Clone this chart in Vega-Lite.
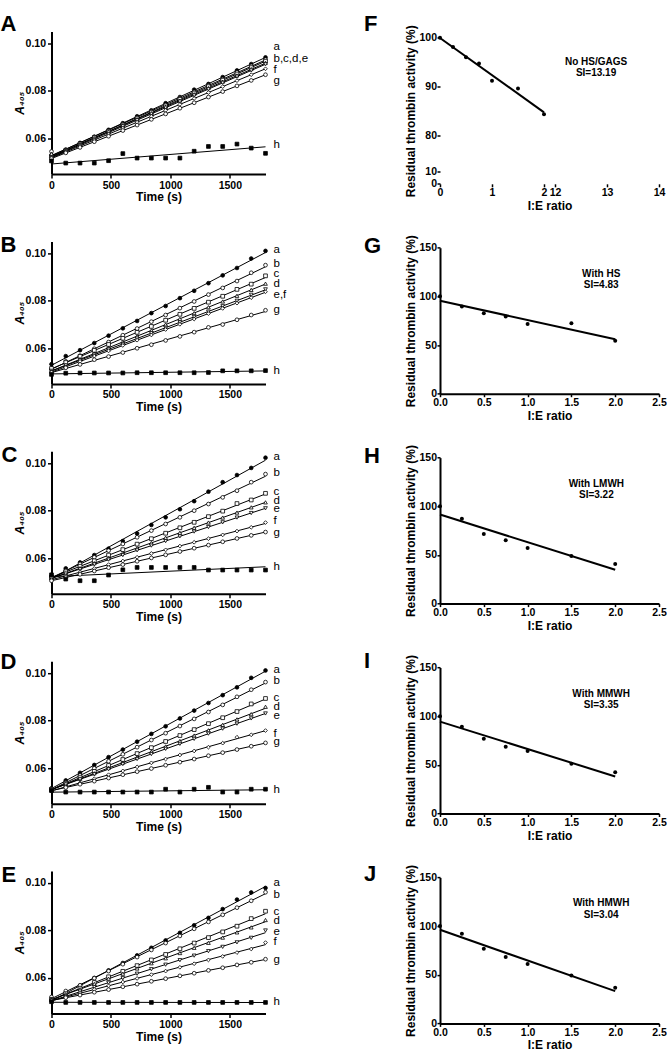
{
"$schema": "https://vega.github.io/schema/vega-lite/v6.json",
"autosize": {"type": "none"},
"padding": {"left": 51.5, "top": 31.5, "right": 615.5, "bottom": 1017.5},
"background": "white",
"config": {
  "view": {"stroke": null},
  "font": "Liberation Sans",
  "title": {"fontSize": 22, "fontWeight": "bold", "font": "Liberation Sans", "baseline": "alphabetic", "anchor": "start", "frame": "group", "offset": 0, "color": "black"},
  "axis": {"domainColor": "black", "domainWidth": 2, "tickColor": "black", "tickWidth": 1.5, "tickSize": 4, "labelFont": "Liberation Sans", "labelFontWeight": "bold", "labelFontSize": 10.5, "labelColor": "black", "titleFont": "Liberation Sans", "titleFontWeight": "bold", "titleFontSize": 12, "titleColor": "black", "grid": false, "labelFlush": false, "labelOverlap": false, "labelPadding": 2, "tickCount": 20}
},
"datasets": {
"kin": [
{"p":"A","s":"a","t":0,"v":0.0530},{"p":"A","s":"a","t":120,"v":0.0553},{"p":"A","s":"a","t":240,"v":0.0581},{"p":"A","s":"a","t":360,"v":0.0607},{"p":"A","s":"a","t":480,"v":0.0636},{"p":"A","s":"a","t":600,"v":0.0664},{"p":"A","s":"a","t":720,"v":0.0693},{"p":"A","s":"a","t":840,"v":0.0718},{"p":"A","s":"a","t":960,"v":0.0748},{"p":"A","s":"a","t":1080,"v":0.0774},{"p":"A","s":"a","t":1200,"v":0.0805},{"p":"A","s":"a","t":1320,"v":0.0829},{"p":"A","s":"a","t":1440,"v":0.0858},{"p":"A","s":"a","t":1560,"v":0.0886},{"p":"A","s":"a","t":1680,"v":0.0913},{"p":"A","s":"a","t":1800,"v":0.0941},
{"p":"A","s":"b","t":0,"v":0.0545},{"p":"A","s":"b","t":120,"v":0.0550},{"p":"A","s":"b","t":240,"v":0.0577},{"p":"A","s":"b","t":360,"v":0.0605},{"p":"A","s":"b","t":480,"v":0.0632},{"p":"A","s":"b","t":600,"v":0.0660},{"p":"A","s":"b","t":720,"v":0.0687},{"p":"A","s":"b","t":840,"v":0.0714},{"p":"A","s":"b","t":960,"v":0.0741},{"p":"A","s":"b","t":1080,"v":0.0769},{"p":"A","s":"b","t":1200,"v":0.0796},{"p":"A","s":"b","t":1320,"v":0.0823},{"p":"A","s":"b","t":1440,"v":0.0850},{"p":"A","s":"b","t":1560,"v":0.0878},{"p":"A","s":"b","t":1680,"v":0.0905},{"p":"A","s":"b","t":1800,"v":0.0932},
{"p":"A","s":"c","t":0,"v":0.0522},{"p":"A","s":"c","t":120,"v":0.0549},{"p":"A","s":"c","t":240,"v":0.0576},{"p":"A","s":"c","t":360,"v":0.0603},{"p":"A","s":"c","t":480,"v":0.0630},{"p":"A","s":"c","t":600,"v":0.0656},{"p":"A","s":"c","t":720,"v":0.0683},{"p":"A","s":"c","t":840,"v":0.0710},{"p":"A","s":"c","t":960,"v":0.0737},{"p":"A","s":"c","t":1080,"v":0.0764},{"p":"A","s":"c","t":1200,"v":0.0791},{"p":"A","s":"c","t":1320,"v":0.0818},{"p":"A","s":"c","t":1440,"v":0.0845},{"p":"A","s":"c","t":1560,"v":0.0871},{"p":"A","s":"c","t":1680,"v":0.0898},{"p":"A","s":"c","t":1800,"v":0.0925},
{"p":"A","s":"d","t":0,"v":0.0535},{"p":"A","s":"d","t":120,"v":0.0547},{"p":"A","s":"d","t":240,"v":0.0574},{"p":"A","s":"d","t":360,"v":0.0600},{"p":"A","s":"d","t":480,"v":0.0627},{"p":"A","s":"d","t":600,"v":0.0653},{"p":"A","s":"d","t":720,"v":0.0680},{"p":"A","s":"d","t":840,"v":0.0706},{"p":"A","s":"d","t":960,"v":0.0733},{"p":"A","s":"d","t":1080,"v":0.0759},{"p":"A","s":"d","t":1200,"v":0.0786},{"p":"A","s":"d","t":1320,"v":0.0812},{"p":"A","s":"d","t":1440,"v":0.0839},{"p":"A","s":"d","t":1560,"v":0.0865},{"p":"A","s":"d","t":1680,"v":0.0892},{"p":"A","s":"d","t":1800,"v":0.0918},
{"p":"A","s":"e","t":0,"v":0.0520},{"p":"A","s":"e","t":120,"v":0.0546},{"p":"A","s":"e","t":240,"v":0.0572},{"p":"A","s":"e","t":360,"v":0.0598},{"p":"A","s":"e","t":480,"v":0.0625},{"p":"A","s":"e","t":600,"v":0.0651},{"p":"A","s":"e","t":720,"v":0.0677},{"p":"A","s":"e","t":840,"v":0.0703},{"p":"A","s":"e","t":960,"v":0.0729},{"p":"A","s":"e","t":1080,"v":0.0755},{"p":"A","s":"e","t":1200,"v":0.0781},{"p":"A","s":"e","t":1320,"v":0.0807},{"p":"A","s":"e","t":1440,"v":0.0834},{"p":"A","s":"e","t":1560,"v":0.0860},{"p":"A","s":"e","t":1680,"v":0.0886},{"p":"A","s":"e","t":1800,"v":0.0912},
{"p":"A","s":"f","t":0,"v":0.0518},{"p":"A","s":"f","t":120,"v":0.0543},{"p":"A","s":"f","t":240,"v":0.0568},{"p":"A","s":"f","t":360,"v":0.0593},{"p":"A","s":"f","t":480,"v":0.0618},{"p":"A","s":"f","t":600,"v":0.0643},{"p":"A","s":"f","t":720,"v":0.0668},{"p":"A","s":"f","t":840,"v":0.0693},{"p":"A","s":"f","t":960,"v":0.0718},{"p":"A","s":"f","t":1080,"v":0.0743},{"p":"A","s":"f","t":1200,"v":0.0768},{"p":"A","s":"f","t":1320,"v":0.0793},{"p":"A","s":"f","t":1440,"v":0.0818},{"p":"A","s":"f","t":1560,"v":0.0843},{"p":"A","s":"f","t":1680,"v":0.0868},{"p":"A","s":"f","t":1800,"v":0.0893},
{"p":"A","s":"g","t":0,"v":0.0515},{"p":"A","s":"g","t":120,"v":0.0539},{"p":"A","s":"g","t":240,"v":0.0562},{"p":"A","s":"g","t":360,"v":0.0586},{"p":"A","s":"g","t":480,"v":0.0609},{"p":"A","s":"g","t":600,"v":0.0633},{"p":"A","s":"g","t":720,"v":0.0656},{"p":"A","s":"g","t":840,"v":0.0680},{"p":"A","s":"g","t":960,"v":0.0703},{"p":"A","s":"g","t":1080,"v":0.0727},{"p":"A","s":"g","t":1200,"v":0.0750},{"p":"A","s":"g","t":1320,"v":0.0774},{"p":"A","s":"g","t":1440,"v":0.0797},{"p":"A","s":"g","t":1560,"v":0.0821},{"p":"A","s":"g","t":1680,"v":0.0844},{"p":"A","s":"g","t":1800,"v":0.0868},
{"p":"A","s":"h","t":0,"v":0.0505},{"p":"A","s":"h","t":120,"v":0.0496},{"p":"A","s":"h","t":240,"v":0.0496},{"p":"A","s":"h","t":360,"v":0.0496},{"p":"A","s":"h","t":480,"v":0.0506},{"p":"A","s":"h","t":600,"v":0.0536},{"p":"A","s":"h","t":720,"v":0.0517},{"p":"A","s":"h","t":840,"v":0.0517},{"p":"A","s":"h","t":960,"v":0.0517},{"p":"A","s":"h","t":1080,"v":0.0517},{"p":"A","s":"h","t":1200,"v":0.0546},{"p":"A","s":"h","t":1320,"v":0.0566},{"p":"A","s":"h","t":1440,"v":0.0566},{"p":"A","s":"h","t":1560,"v":0.0576},{"p":"A","s":"h","t":1680,"v":0.0559},{"p":"A","s":"h","t":1800,"v":0.0537},
{"p":"B","s":"a","t":0,"v":0.0533},{"p":"B","s":"a","t":120,"v":0.0567},{"p":"B","s":"a","t":240,"v":0.0592},{"p":"B","s":"a","t":360,"v":0.0622},{"p":"B","s":"a","t":480,"v":0.0653},{"p":"B","s":"a","t":600,"v":0.0684},{"p":"B","s":"a","t":720,"v":0.0715},{"p":"B","s":"a","t":840,"v":0.0748},{"p":"B","s":"a","t":960,"v":0.0778},{"p":"B","s":"a","t":1080,"v":0.0811},{"p":"B","s":"a","t":1200,"v":0.0842},{"p":"B","s":"a","t":1320,"v":0.0874},{"p":"B","s":"a","t":1440,"v":0.0907},{"p":"B","s":"a","t":1560,"v":0.0938},{"p":"B","s":"a","t":1680,"v":0.0978},{"p":"B","s":"a","t":1800,"v":0.1010},
{"p":"B","s":"b","t":0,"v":0.0512},{"p":"B","s":"b","t":120,"v":0.0545},{"p":"B","s":"b","t":240,"v":0.0569},{"p":"B","s":"b","t":360,"v":0.0598},{"p":"B","s":"b","t":480,"v":0.0626},{"p":"B","s":"b","t":600,"v":0.0655},{"p":"B","s":"b","t":720,"v":0.0683},{"p":"B","s":"b","t":840,"v":0.0712},{"p":"B","s":"b","t":960,"v":0.0740},{"p":"B","s":"b","t":1080,"v":0.0769},{"p":"B","s":"b","t":1200,"v":0.0797},{"p":"B","s":"b","t":1320,"v":0.0826},{"p":"B","s":"b","t":1440,"v":0.0854},{"p":"B","s":"b","t":1560,"v":0.0883},{"p":"B","s":"b","t":1680,"v":0.0918},{"p":"B","s":"b","t":1800,"v":0.0950},
{"p":"B","s":"c","t":0,"v":0.0515},{"p":"B","s":"c","t":120,"v":0.0540},{"p":"B","s":"c","t":240,"v":0.0566},{"p":"B","s":"c","t":360,"v":0.0591},{"p":"B","s":"c","t":480,"v":0.0616},{"p":"B","s":"c","t":600,"v":0.0642},{"p":"B","s":"c","t":720,"v":0.0667},{"p":"B","s":"c","t":840,"v":0.0692},{"p":"B","s":"c","t":960,"v":0.0718},{"p":"B","s":"c","t":1080,"v":0.0743},{"p":"B","s":"c","t":1200,"v":0.0768},{"p":"B","s":"c","t":1320,"v":0.0794},{"p":"B","s":"c","t":1440,"v":0.0819},{"p":"B","s":"c","t":1560,"v":0.0848},{"p":"B","s":"c","t":1680,"v":0.0870},{"p":"B","s":"c","t":1800,"v":0.0905},
{"p":"B","s":"d","t":0,"v":0.0505},{"p":"B","s":"d","t":120,"v":0.0529},{"p":"B","s":"d","t":240,"v":0.0554},{"p":"B","s":"d","t":360,"v":0.0578},{"p":"B","s":"d","t":480,"v":0.0602},{"p":"B","s":"d","t":600,"v":0.0627},{"p":"B","s":"d","t":720,"v":0.0651},{"p":"B","s":"d","t":840,"v":0.0675},{"p":"B","s":"d","t":960,"v":0.0700},{"p":"B","s":"d","t":1080,"v":0.0724},{"p":"B","s":"d","t":1200,"v":0.0748},{"p":"B","s":"d","t":1320,"v":0.0773},{"p":"B","s":"d","t":1440,"v":0.0797},{"p":"B","s":"d","t":1560,"v":0.0821},{"p":"B","s":"d","t":1680,"v":0.0846},{"p":"B","s":"d","t":1800,"v":0.0872},
{"p":"B","s":"e","t":0,"v":0.0505},{"p":"B","s":"e","t":120,"v":0.0528},{"p":"B","s":"e","t":240,"v":0.0550},{"p":"B","s":"e","t":360,"v":0.0573},{"p":"B","s":"e","t":480,"v":0.0596},{"p":"B","s":"e","t":600,"v":0.0618},{"p":"B","s":"e","t":720,"v":0.0641},{"p":"B","s":"e","t":840,"v":0.0664},{"p":"B","s":"e","t":960,"v":0.0686},{"p":"B","s":"e","t":1080,"v":0.0709},{"p":"B","s":"e","t":1200,"v":0.0732},{"p":"B","s":"e","t":1320,"v":0.0754},{"p":"B","s":"e","t":1440,"v":0.0777},{"p":"B","s":"e","t":1560,"v":0.0800},{"p":"B","s":"e","t":1680,"v":0.0825},{"p":"B","s":"e","t":1800,"v":0.0848},
{"p":"B","s":"f","t":0,"v":0.0500},{"p":"B","s":"f","t":120,"v":0.0522},{"p":"B","s":"f","t":240,"v":0.0545},{"p":"B","s":"f","t":360,"v":0.0567},{"p":"B","s":"f","t":480,"v":0.0589},{"p":"B","s":"f","t":600,"v":0.0612},{"p":"B","s":"f","t":720,"v":0.0634},{"p":"B","s":"f","t":840,"v":0.0656},{"p":"B","s":"f","t":960,"v":0.0679},{"p":"B","s":"f","t":1080,"v":0.0701},{"p":"B","s":"f","t":1200,"v":0.0723},{"p":"B","s":"f","t":1320,"v":0.0746},{"p":"B","s":"f","t":1440,"v":0.0768},{"p":"B","s":"f","t":1560,"v":0.0790},{"p":"B","s":"f","t":1680,"v":0.0813},{"p":"B","s":"f","t":1800,"v":0.0838},
{"p":"B","s":"g","t":0,"v":0.0498},{"p":"B","s":"g","t":120,"v":0.0518},{"p":"B","s":"g","t":240,"v":0.0532},{"p":"B","s":"g","t":360,"v":0.0552},{"p":"B","s":"g","t":480,"v":0.0565},{"p":"B","s":"g","t":600,"v":0.0582},{"p":"B","s":"g","t":720,"v":0.0600},{"p":"B","s":"g","t":840,"v":0.0615},{"p":"B","s":"g","t":960,"v":0.0633},{"p":"B","s":"g","t":1080,"v":0.0650},{"p":"B","s":"g","t":1200,"v":0.0668},{"p":"B","s":"g","t":1320,"v":0.0688},{"p":"B","s":"g","t":1440,"v":0.0700},{"p":"B","s":"g","t":1560,"v":0.0720},{"p":"B","s":"g","t":1680,"v":0.0740},{"p":"B","s":"g","t":1800,"v":0.0760},
{"p":"B","s":"h","t":0,"v":0.0490},{"p":"B","s":"h","t":120,"v":0.0495},{"p":"B","s":"h","t":240,"v":0.0496},{"p":"B","s":"h","t":360,"v":0.0496},{"p":"B","s":"h","t":480,"v":0.0496},{"p":"B","s":"h","t":600,"v":0.0496},{"p":"B","s":"h","t":720,"v":0.0497},{"p":"B","s":"h","t":840,"v":0.0497},{"p":"B","s":"h","t":960,"v":0.0497},{"p":"B","s":"h","t":1080,"v":0.0497},{"p":"B","s":"h","t":1200,"v":0.0497},{"p":"B","s":"h","t":1320,"v":0.0498},{"p":"B","s":"h","t":1440,"v":0.0505},{"p":"B","s":"h","t":1560,"v":0.0505},{"p":"B","s":"h","t":1680,"v":0.0505},{"p":"B","s":"h","t":1800,"v":0.0506},
{"p":"C","s":"a","t":0,"v":0.0525},{"p":"C","s":"a","t":120,"v":0.0557},{"p":"C","s":"a","t":240,"v":0.0582},{"p":"C","s":"a","t":360,"v":0.0613},{"p":"C","s":"a","t":480,"v":0.0640},{"p":"C","s":"a","t":600,"v":0.0672},{"p":"C","s":"a","t":720,"v":0.0704},{"p":"C","s":"a","t":840,"v":0.0740},{"p":"C","s":"a","t":960,"v":0.0772},{"p":"C","s":"a","t":1080,"v":0.0806},{"p":"C","s":"a","t":1200,"v":0.0840},{"p":"C","s":"a","t":1320,"v":0.0880},{"p":"C","s":"a","t":1440,"v":0.0920},{"p":"C","s":"a","t":1560,"v":0.0950},{"p":"C","s":"a","t":1680,"v":0.0980},{"p":"C","s":"a","t":1800,"v":0.1023},
{"p":"C","s":"b","t":0,"v":0.0520},{"p":"C","s":"b","t":120,"v":0.0548},{"p":"C","s":"b","t":240,"v":0.0576},{"p":"C","s":"b","t":360,"v":0.0604},{"p":"C","s":"b","t":480,"v":0.0632},{"p":"C","s":"b","t":600,"v":0.0660},{"p":"C","s":"b","t":720,"v":0.0688},{"p":"C","s":"b","t":840,"v":0.0716},{"p":"C","s":"b","t":960,"v":0.0744},{"p":"C","s":"b","t":1080,"v":0.0772},{"p":"C","s":"b","t":1200,"v":0.0800},{"p":"C","s":"b","t":1320,"v":0.0828},{"p":"C","s":"b","t":1440,"v":0.0856},{"p":"C","s":"b","t":1560,"v":0.0884},{"p":"C","s":"b","t":1680,"v":0.0920},{"p":"C","s":"b","t":1800,"v":0.0954},
{"p":"C","s":"c","t":0,"v":0.0520},{"p":"C","s":"c","t":120,"v":0.0543},{"p":"C","s":"c","t":240,"v":0.0566},{"p":"C","s":"c","t":360,"v":0.0589},{"p":"C","s":"c","t":480,"v":0.0613},{"p":"C","s":"c","t":600,"v":0.0636},{"p":"C","s":"c","t":720,"v":0.0659},{"p":"C","s":"c","t":840,"v":0.0682},{"p":"C","s":"c","t":960,"v":0.0705},{"p":"C","s":"c","t":1080,"v":0.0728},{"p":"C","s":"c","t":1200,"v":0.0751},{"p":"C","s":"c","t":1320,"v":0.0775},{"p":"C","s":"c","t":1440,"v":0.0798},{"p":"C","s":"c","t":1560,"v":0.0830},{"p":"C","s":"c","t":1680,"v":0.0845},{"p":"C","s":"c","t":1800,"v":0.0873},
{"p":"C","s":"d","t":0,"v":0.0515},{"p":"C","s":"d","t":120,"v":0.0536},{"p":"C","s":"d","t":240,"v":0.0558},{"p":"C","s":"d","t":360,"v":0.0579},{"p":"C","s":"d","t":480,"v":0.0600},{"p":"C","s":"d","t":600,"v":0.0622},{"p":"C","s":"d","t":720,"v":0.0643},{"p":"C","s":"d","t":840,"v":0.0664},{"p":"C","s":"d","t":960,"v":0.0686},{"p":"C","s":"d","t":1080,"v":0.0707},{"p":"C","s":"d","t":1200,"v":0.0728},{"p":"C","s":"d","t":1320,"v":0.0750},{"p":"C","s":"d","t":1440,"v":0.0771},{"p":"C","s":"d","t":1560,"v":0.0792},{"p":"C","s":"d","t":1680,"v":0.0814},{"p":"C","s":"d","t":1800,"v":0.0835},
{"p":"C","s":"e","t":0,"v":0.0515},{"p":"C","s":"e","t":120,"v":0.0535},{"p":"C","s":"e","t":240,"v":0.0554},{"p":"C","s":"e","t":360,"v":0.0574},{"p":"C","s":"e","t":480,"v":0.0594},{"p":"C","s":"e","t":600,"v":0.0613},{"p":"C","s":"e","t":720,"v":0.0633},{"p":"C","s":"e","t":840,"v":0.0653},{"p":"C","s":"e","t":960,"v":0.0672},{"p":"C","s":"e","t":1080,"v":0.0692},{"p":"C","s":"e","t":1200,"v":0.0712},{"p":"C","s":"e","t":1320,"v":0.0731},{"p":"C","s":"e","t":1440,"v":0.0751},{"p":"C","s":"e","t":1560,"v":0.0771},{"p":"C","s":"e","t":1680,"v":0.0790},{"p":"C","s":"e","t":1800,"v":0.0810},
{"p":"C","s":"f","t":0,"v":0.0510},{"p":"C","s":"f","t":120,"v":0.0526},{"p":"C","s":"f","t":240,"v":0.0541},{"p":"C","s":"f","t":360,"v":0.0557},{"p":"C","s":"f","t":480,"v":0.0573},{"p":"C","s":"f","t":600,"v":0.0588},{"p":"C","s":"f","t":720,"v":0.0604},{"p":"C","s":"f","t":840,"v":0.0620},{"p":"C","s":"f","t":960,"v":0.0635},{"p":"C","s":"f","t":1080,"v":0.0651},{"p":"C","s":"f","t":1200,"v":0.0667},{"p":"C","s":"f","t":1320,"v":0.0682},{"p":"C","s":"f","t":1440,"v":0.0698},{"p":"C","s":"f","t":1560,"v":0.0714},{"p":"C","s":"f","t":1680,"v":0.0730},{"p":"C","s":"f","t":1800,"v":0.0750},
{"p":"C","s":"g","t":0,"v":0.0505},{"p":"C","s":"g","t":120,"v":0.0519},{"p":"C","s":"g","t":240,"v":0.0532},{"p":"C","s":"g","t":360,"v":0.0546},{"p":"C","s":"g","t":480,"v":0.0560},{"p":"C","s":"g","t":600,"v":0.0573},{"p":"C","s":"g","t":720,"v":0.0587},{"p":"C","s":"g","t":840,"v":0.0601},{"p":"C","s":"g","t":960,"v":0.0614},{"p":"C","s":"g","t":1080,"v":0.0628},{"p":"C","s":"g","t":1200,"v":0.0642},{"p":"C","s":"g","t":1320,"v":0.0655},{"p":"C","s":"g","t":1440,"v":0.0669},{"p":"C","s":"g","t":1560,"v":0.0683},{"p":"C","s":"g","t":1680,"v":0.0696},{"p":"C","s":"g","t":1800,"v":0.0710},
{"p":"C","s":"h","t":0,"v":0.0530},{"p":"C","s":"h","t":120,"v":0.0512},{"p":"C","s":"h","t":240,"v":0.0505},{"p":"C","s":"h","t":360,"v":0.0505},{"p":"C","s":"h","t":480,"v":0.0529},{"p":"C","s":"h","t":600,"v":0.0551},{"p":"C","s":"h","t":720,"v":0.0561},{"p":"C","s":"h","t":840,"v":0.0561},{"p":"C","s":"h","t":960,"v":0.0561},{"p":"C","s":"h","t":1080,"v":0.0561},{"p":"C","s":"h","t":1200,"v":0.0561},{"p":"C","s":"h","t":1320,"v":0.0550},{"p":"C","s":"h","t":1440,"v":0.0550},{"p":"C","s":"h","t":1560,"v":0.0550},{"p":"C","s":"h","t":1680,"v":0.0550},{"p":"C","s":"h","t":1800,"v":0.0550},
{"p":"D","s":"a","t":0,"v":0.0515},{"p":"D","s":"a","t":120,"v":0.0548},{"p":"D","s":"a","t":240,"v":0.0580},{"p":"D","s":"a","t":360,"v":0.0613},{"p":"D","s":"a","t":480,"v":0.0646},{"p":"D","s":"a","t":600,"v":0.0678},{"p":"D","s":"a","t":720,"v":0.0711},{"p":"D","s":"a","t":840,"v":0.0744},{"p":"D","s":"a","t":960,"v":0.0776},{"p":"D","s":"a","t":1080,"v":0.0809},{"p":"D","s":"a","t":1200,"v":0.0842},{"p":"D","s":"a","t":1320,"v":0.0874},{"p":"D","s":"a","t":1440,"v":0.0907},{"p":"D","s":"a","t":1560,"v":0.0940},{"p":"D","s":"a","t":1680,"v":0.0980},{"p":"D","s":"a","t":1800,"v":0.1011},
{"p":"D","s":"b","t":0,"v":0.0510},{"p":"D","s":"b","t":120,"v":0.0540},{"p":"D","s":"b","t":240,"v":0.0569},{"p":"D","s":"b","t":360,"v":0.0599},{"p":"D","s":"b","t":480,"v":0.0629},{"p":"D","s":"b","t":600,"v":0.0658},{"p":"D","s":"b","t":720,"v":0.0688},{"p":"D","s":"b","t":840,"v":0.0718},{"p":"D","s":"b","t":960,"v":0.0747},{"p":"D","s":"b","t":1080,"v":0.0777},{"p":"D","s":"b","t":1200,"v":0.0807},{"p":"D","s":"b","t":1320,"v":0.0836},{"p":"D","s":"b","t":1440,"v":0.0866},{"p":"D","s":"b","t":1560,"v":0.0900},{"p":"D","s":"b","t":1680,"v":0.0930},{"p":"D","s":"b","t":1800,"v":0.0962},
{"p":"D","s":"c","t":0,"v":0.0510},{"p":"D","s":"c","t":120,"v":0.0535},{"p":"D","s":"c","t":240,"v":0.0560},{"p":"D","s":"c","t":360,"v":0.0586},{"p":"D","s":"c","t":480,"v":0.0611},{"p":"D","s":"c","t":600,"v":0.0636},{"p":"D","s":"c","t":720,"v":0.0661},{"p":"D","s":"c","t":840,"v":0.0686},{"p":"D","s":"c","t":960,"v":0.0712},{"p":"D","s":"c","t":1080,"v":0.0737},{"p":"D","s":"c","t":1200,"v":0.0762},{"p":"D","s":"c","t":1320,"v":0.0787},{"p":"D","s":"c","t":1440,"v":0.0812},{"p":"D","s":"c","t":1560,"v":0.0838},{"p":"D","s":"c","t":1680,"v":0.0870},{"p":"D","s":"c","t":1800,"v":0.0893},
{"p":"D","s":"d","t":0,"v":0.0510},{"p":"D","s":"d","t":120,"v":0.0533},{"p":"D","s":"d","t":240,"v":0.0555},{"p":"D","s":"d","t":360,"v":0.0578},{"p":"D","s":"d","t":480,"v":0.0601},{"p":"D","s":"d","t":600,"v":0.0623},{"p":"D","s":"d","t":720,"v":0.0646},{"p":"D","s":"d","t":840,"v":0.0669},{"p":"D","s":"d","t":960,"v":0.0691},{"p":"D","s":"d","t":1080,"v":0.0714},{"p":"D","s":"d","t":1200,"v":0.0737},{"p":"D","s":"d","t":1320,"v":0.0759},{"p":"D","s":"d","t":1440,"v":0.0782},{"p":"D","s":"d","t":1560,"v":0.0805},{"p":"D","s":"d","t":1680,"v":0.0827},{"p":"D","s":"d","t":1800,"v":0.0858},
{"p":"D","s":"e","t":0,"v":0.0510},{"p":"D","s":"e","t":120,"v":0.0531},{"p":"D","s":"e","t":240,"v":0.0553},{"p":"D","s":"e","t":360,"v":0.0574},{"p":"D","s":"e","t":480,"v":0.0595},{"p":"D","s":"e","t":600,"v":0.0617},{"p":"D","s":"e","t":720,"v":0.0638},{"p":"D","s":"e","t":840,"v":0.0659},{"p":"D","s":"e","t":960,"v":0.0681},{"p":"D","s":"e","t":1080,"v":0.0702},{"p":"D","s":"e","t":1200,"v":0.0723},{"p":"D","s":"e","t":1320,"v":0.0745},{"p":"D","s":"e","t":1440,"v":0.0766},{"p":"D","s":"e","t":1560,"v":0.0787},{"p":"D","s":"e","t":1680,"v":0.0809},{"p":"D","s":"e","t":1800,"v":0.0830},
{"p":"D","s":"f","t":0,"v":0.0505},{"p":"D","s":"f","t":120,"v":0.0522},{"p":"D","s":"f","t":240,"v":0.0538},{"p":"D","s":"f","t":360,"v":0.0555},{"p":"D","s":"f","t":480,"v":0.0572},{"p":"D","s":"f","t":600,"v":0.0588},{"p":"D","s":"f","t":720,"v":0.0605},{"p":"D","s":"f","t":840,"v":0.0622},{"p":"D","s":"f","t":960,"v":0.0638},{"p":"D","s":"f","t":1080,"v":0.0655},{"p":"D","s":"f","t":1200,"v":0.0672},{"p":"D","s":"f","t":1320,"v":0.0688},{"p":"D","s":"f","t":1440,"v":0.0705},{"p":"D","s":"f","t":1560,"v":0.0730},{"p":"D","s":"f","t":1680,"v":0.0740},{"p":"D","s":"f","t":1800,"v":0.0758},
{"p":"D","s":"g","t":0,"v":0.0505},{"p":"D","s":"g","t":120,"v":0.0518},{"p":"D","s":"g","t":240,"v":0.0532},{"p":"D","s":"g","t":360,"v":0.0545},{"p":"D","s":"g","t":480,"v":0.0558},{"p":"D","s":"g","t":600,"v":0.0572},{"p":"D","s":"g","t":720,"v":0.0585},{"p":"D","s":"g","t":840,"v":0.0598},{"p":"D","s":"g","t":960,"v":0.0612},{"p":"D","s":"g","t":1080,"v":0.0625},{"p":"D","s":"g","t":1200,"v":0.0638},{"p":"D","s":"g","t":1320,"v":0.0652},{"p":"D","s":"g","t":1440,"v":0.0665},{"p":"D","s":"g","t":1560,"v":0.0678},{"p":"D","s":"g","t":1680,"v":0.0692},{"p":"D","s":"g","t":1800,"v":0.0706},
{"p":"D","s":"h","t":0,"v":0.0505},{"p":"D","s":"h","t":120,"v":0.0499},{"p":"D","s":"h","t":240,"v":0.0499},{"p":"D","s":"h","t":360,"v":0.0499},{"p":"D","s":"h","t":480,"v":0.0499},{"p":"D","s":"h","t":600,"v":0.0499},{"p":"D","s":"h","t":720,"v":0.0499},{"p":"D","s":"h","t":840,"v":0.0499},{"p":"D","s":"h","t":960,"v":0.0511},{"p":"D","s":"h","t":1080,"v":0.0499},{"p":"D","s":"h","t":1200,"v":0.0511},{"p":"D","s":"h","t":1320,"v":0.0519},{"p":"D","s":"h","t":1440,"v":0.0499},{"p":"D","s":"h","t":1560,"v":0.0499},{"p":"D","s":"h","t":1680,"v":0.0511},{"p":"D","s":"h","t":1800,"v":0.0511},
{"p":"E","s":"a","t":0,"v":0.0505},{"p":"E","s":"a","t":120,"v":0.0537},{"p":"E","s":"a","t":240,"v":0.0568},{"p":"E","s":"a","t":360,"v":0.0600},{"p":"E","s":"a","t":480,"v":0.0632},{"p":"E","s":"a","t":600,"v":0.0663},{"p":"E","s":"a","t":720,"v":0.0695},{"p":"E","s":"a","t":840,"v":0.0727},{"p":"E","s":"a","t":960,"v":0.0758},{"p":"E","s":"a","t":1080,"v":0.0790},{"p":"E","s":"a","t":1200,"v":0.0822},{"p":"E","s":"a","t":1320,"v":0.0853},{"p":"E","s":"a","t":1440,"v":0.0890},{"p":"E","s":"a","t":1560,"v":0.0930},{"p":"E","s":"a","t":1680,"v":0.0960},{"p":"E","s":"a","t":1800,"v":0.0979},
{"p":"E","s":"b","t":0,"v":0.0520},{"p":"E","s":"b","t":120,"v":0.0545},{"p":"E","s":"b","t":240,"v":0.0569},{"p":"E","s":"b","t":360,"v":0.0599},{"p":"E","s":"b","t":480,"v":0.0629},{"p":"E","s":"b","t":600,"v":0.0658},{"p":"E","s":"b","t":720,"v":0.0688},{"p":"E","s":"b","t":840,"v":0.0718},{"p":"E","s":"b","t":960,"v":0.0747},{"p":"E","s":"b","t":1080,"v":0.0777},{"p":"E","s":"b","t":1200,"v":0.0807},{"p":"E","s":"b","t":1320,"v":0.0836},{"p":"E","s":"b","t":1440,"v":0.0866},{"p":"E","s":"b","t":1560,"v":0.0896},{"p":"E","s":"b","t":1680,"v":0.0925},{"p":"E","s":"b","t":1800,"v":0.0961},
{"p":"E","s":"c","t":0,"v":0.0510},{"p":"E","s":"c","t":120,"v":0.0534},{"p":"E","s":"c","t":240,"v":0.0557},{"p":"E","s":"c","t":360,"v":0.0581},{"p":"E","s":"c","t":480,"v":0.0605},{"p":"E","s":"c","t":600,"v":0.0628},{"p":"E","s":"c","t":720,"v":0.0652},{"p":"E","s":"c","t":840,"v":0.0676},{"p":"E","s":"c","t":960,"v":0.0699},{"p":"E","s":"c","t":1080,"v":0.0723},{"p":"E","s":"c","t":1200,"v":0.0747},{"p":"E","s":"c","t":1320,"v":0.0770},{"p":"E","s":"c","t":1440,"v":0.0794},{"p":"E","s":"c","t":1560,"v":0.0818},{"p":"E","s":"c","t":1680,"v":0.0850},{"p":"E","s":"c","t":1800,"v":0.0881},
{"p":"E","s":"d","t":0,"v":0.0510},{"p":"E","s":"d","t":120,"v":0.0532},{"p":"E","s":"d","t":240,"v":0.0553},{"p":"E","s":"d","t":360,"v":0.0575},{"p":"E","s":"d","t":480,"v":0.0597},{"p":"E","s":"d","t":600,"v":0.0618},{"p":"E","s":"d","t":720,"v":0.0640},{"p":"E","s":"d","t":840,"v":0.0662},{"p":"E","s":"d","t":960,"v":0.0683},{"p":"E","s":"d","t":1080,"v":0.0705},{"p":"E","s":"d","t":1200,"v":0.0727},{"p":"E","s":"d","t":1320,"v":0.0748},{"p":"E","s":"d","t":1440,"v":0.0770},{"p":"E","s":"d","t":1560,"v":0.0792},{"p":"E","s":"d","t":1680,"v":0.0813},{"p":"E","s":"d","t":1800,"v":0.0844},
{"p":"E","s":"e","t":0,"v":0.0505},{"p":"E","s":"e","t":120,"v":0.0524},{"p":"E","s":"e","t":240,"v":0.0543},{"p":"E","s":"e","t":360,"v":0.0562},{"p":"E","s":"e","t":480,"v":0.0580},{"p":"E","s":"e","t":600,"v":0.0599},{"p":"E","s":"e","t":720,"v":0.0618},{"p":"E","s":"e","t":840,"v":0.0637},{"p":"E","s":"e","t":960,"v":0.0656},{"p":"E","s":"e","t":1080,"v":0.0675},{"p":"E","s":"e","t":1200,"v":0.0694},{"p":"E","s":"e","t":1320,"v":0.0713},{"p":"E","s":"e","t":1440,"v":0.0731},{"p":"E","s":"e","t":1560,"v":0.0750},{"p":"E","s":"e","t":1680,"v":0.0769},{"p":"E","s":"e","t":1800,"v":0.0800},
{"p":"E","s":"f","t":0,"v":0.0505},{"p":"E","s":"f","t":120,"v":0.0521},{"p":"E","s":"f","t":240,"v":0.0536},{"p":"E","s":"f","t":360,"v":0.0552},{"p":"E","s":"f","t":480,"v":0.0567},{"p":"E","s":"f","t":600,"v":0.0583},{"p":"E","s":"f","t":720,"v":0.0598},{"p":"E","s":"f","t":840,"v":0.0614},{"p":"E","s":"f","t":960,"v":0.0629},{"p":"E","s":"f","t":1080,"v":0.0645},{"p":"E","s":"f","t":1200,"v":0.0660},{"p":"E","s":"f","t":1320,"v":0.0676},{"p":"E","s":"f","t":1440,"v":0.0691},{"p":"E","s":"f","t":1560,"v":0.0707},{"p":"E","s":"f","t":1680,"v":0.0722},{"p":"E","s":"f","t":1800,"v":0.0749},
{"p":"E","s":"g","t":0,"v":0.0505},{"p":"E","s":"g","t":120,"v":0.0517},{"p":"E","s":"g","t":240,"v":0.0528},{"p":"E","s":"g","t":360,"v":0.0540},{"p":"E","s":"g","t":480,"v":0.0551},{"p":"E","s":"g","t":600,"v":0.0563},{"p":"E","s":"g","t":720,"v":0.0574},{"p":"E","s":"g","t":840,"v":0.0586},{"p":"E","s":"g","t":960,"v":0.0597},{"p":"E","s":"g","t":1080,"v":0.0609},{"p":"E","s":"g","t":1200,"v":0.0620},{"p":"E","s":"g","t":1320,"v":0.0632},{"p":"E","s":"g","t":1440,"v":0.0643},{"p":"E","s":"g","t":1560,"v":0.0655},{"p":"E","s":"g","t":1680,"v":0.0666},{"p":"E","s":"g","t":1800,"v":0.0679},
{"p":"E","s":"h","t":0,"v":0.0500},{"p":"E","s":"h","t":120,"v":0.0497},{"p":"E","s":"h","t":240,"v":0.0497},{"p":"E","s":"h","t":360,"v":0.0497},{"p":"E","s":"h","t":480,"v":0.0497},{"p":"E","s":"h","t":600,"v":0.0497},{"p":"E","s":"h","t":720,"v":0.0497},{"p":"E","s":"h","t":840,"v":0.0497},{"p":"E","s":"h","t":960,"v":0.0497},{"p":"E","s":"h","t":1080,"v":0.0497},{"p":"E","s":"h","t":1200,"v":0.0497},{"p":"E","s":"h","t":1320,"v":0.0497},{"p":"E","s":"h","t":1440,"v":0.0497},{"p":"E","s":"h","t":1560,"v":0.0497},{"p":"E","s":"h","t":1680,"v":0.0497},{"p":"E","s":"h","t":1800,"v":0.0497}
],
"lab": [
{"p":"A","lab":"a","v":0.0971},{"p":"A","lab":"b,c,d,e","v":0.0922},{"p":"A","lab":"f","v":0.0876},{"p":"A","lab":"g","v":0.0830},{"p":"A","lab":"h","v":0.0560},
{"p":"B","lab":"a","v":0.1002},{"p":"B","lab":"b","v":0.0941},{"p":"B","lab":"c","v":0.0902},{"p":"B","lab":"d","v":0.0860},{"p":"B","lab":"e,f","v":0.0813},{"p":"B","lab":"g","v":0.0748},{"p":"B","lab":"h","v":0.0492},
{"p":"C","lab":"a","v":0.1014},{"p":"C","lab":"b","v":0.0944},{"p":"C","lab":"c","v":0.0867},{"p":"C","lab":"d","v":0.0828},{"p":"C","lab":"e","v":0.0793},{"p":"C","lab":"f","v":0.0742},{"p":"C","lab":"g","v":0.0695},{"p":"C","lab":"h","v":0.0551},
{"p":"D","lab":"a","v":0.1001},{"p":"D","lab":"b","v":0.0953},{"p":"D","lab":"c","v":0.0883},{"p":"D","lab":"d","v":0.0844},{"p":"D","lab":"e","v":0.0805},{"p":"D","lab":"f","v":0.0729},{"p":"D","lab":"g","v":0.0696},{"p":"D","lab":"h","v":0.0496},
{"p":"E","lab":"a","v":0.0986},{"p":"E","lab":"b","v":0.0937},{"p":"E","lab":"c","v":0.0867},{"p":"E","lab":"d","v":0.0829},{"p":"E","lab":"e","v":0.0781},{"p":"E","lab":"f","v":0.0737},{"p":"E","lab":"g","v":0.0665},{"p":"E","lab":"h","v":0.0488}
],
"inh": [
{"p":"F","x":0,"y":100},{"p":"F","x":0.25,"y":98.1},{"p":"F","x":0.5,"y":96.0},{"p":"F","x":0.75,"y":94.7},{"p":"F","x":1,"y":91.2},{"p":"F","x":1.5,"y":89.6},{"p":"F","x":2,"y":84.3},
{"p":"G","x":0,"y":100},{"p":"G","x":0.25,"y":89.5},{"p":"G","x":0.5,"y":82.7},{"p":"G","x":0.75,"y":79.3},{"p":"G","x":1,"y":71.5},{"p":"G","x":1.5,"y":72.5},{"p":"G","x":2,"y":54.3},
{"p":"H","x":0,"y":100},{"p":"H","x":0.25,"y":87.1},{"p":"H","x":0.5,"y":71.4},{"p":"H","x":0.75,"y":65.0},{"p":"H","x":1,"y":57.1},{"p":"H","x":1.5,"y":49.0},{"p":"H","x":2,"y":40.8},
{"p":"I","x":0,"y":100},{"p":"I","x":0.25,"y":89.0},{"p":"I","x":0.5,"y":76.7},{"p":"I","x":0.75,"y":68.5},{"p":"I","x":1,"y":64.1},{"p":"I","x":1.5,"y":51.0},{"p":"I","x":2,"y":42.5},
{"p":"J","x":0,"y":100},{"p":"J","x":0.25,"y":92.2},{"p":"J","x":0.5,"y":76.7},{"p":"J","x":0.75,"y":68.1},{"p":"J","x":1,"y":61.0},{"p":"J","x":1.5,"y":49.3},{"p":"J","x":2,"y":36.7}
],
"ann": [
{"p":"F","line":"No HS/GAGS","x":12.79,"y":94.5},{"p":"F","line":"SI=13.19","x":12.79,"y":92.1},
{"p":"G","line":"With HS","x":1.84,"y":120.3},{"p":"G","line":"SI=4.83","x":1.84,"y":108.4},
{"p":"H","line":"With LMWH","x":1.785,"y":119.4},{"p":"H","line":"SI=3.22","x":1.785,"y":108.2},
{"p":"I","line":"With MMWH","x":1.84,"y":119.9},{"p":"I","line":"SI=3.35","x":1.84,"y":107.9},
{"p":"J","line":"With HMWH","x":1.84,"y":120.9},{"p":"J","line":"SI=3.04","x":1.84,"y":107.9}
]
},
"columns": 2,
"align": "all",
"spacing": {"row": 56.9, "column": 169.5},
"bounds": "flush",
"concat": [
{"title": {"text": "A", "dx": -51, "dy": 8},
 "width": 214, "height": 142.5,
 "layer": [
  {"data": {"name": "kin"}, "transform": [{"filter": {"field": "p", "equal": "A"}}, {"regression": "v", "on": "t", "groupby": ["s"], "extent": [0, 1800]}], "mark": {"type": "line", "color": "black", "strokeWidth": 1},
   "encoding": {"x": {"field": "t", "type": "quantitative", "scale": {"domain": [0, 1800], "nice": false}, "axis": {"values": [0, 500, 1000, 1500], "format": "d", "title": "Time (s)", "titlePadding": 1}},
     "y": {"field": "v", "type": "quantitative", "scale": {"domain": [0.045, 0.105], "nice": false, "zero": false}, "axis": {"values": [0.06, 0.08, 0.10], "format": ".2f", "title": "A₄₀₅", "titleFontStyle": "italic", "titlePadding": -1}},
     "detail": {"field": "s"}}},
  {"data": {"name": "kin"}, "transform": [{"filter": {"field": "p", "equal": "A"}}], "mark": {"type": "point", "filled": true, "opacity": 1, "stroke": "black", "strokeWidth": 0.8, "size": 14},
   "encoding": {"x": {"field": "t", "type": "quantitative"}, "y": {"field": "v", "type": "quantitative"},
     "shape": {"field": "s", "scale": {"domain": ["a","b","c","d","e","f","g","h"], "range": ["circle","circle","square","triangle-up","triangle-down","diamond","circle","square"]}, "legend": null},
     "fill": {"field": "s", "scale": {"domain": ["a","b","c","d","e","f","g","h"], "range": ["black","white","white","white","white","white","white","black"]}, "legend": null}}},
  {"data": {"name": "lab"}, "transform": [{"filter": {"field": "p", "equal": "A"}}], "mark": {"type": "text", "align": "left", "baseline": "alphabetic", "dx": 8, "fontSize": 11.5, "font": "Liberation Sans", "fill": "black"},
   "encoding": {"x": {"datum": 1800, "type": "quantitative"}, "y": {"field": "v", "type": "quantitative"}, "text": {"field": "lab"}}}
 ]},
{"title": {"text": "F", "dx": -76, "dy": 15},
 "width": 219, "height": 152.3,
 "layer": [
  {"data": {"name": "inh"}, "transform": [{"filter": {"field": "p", "equal": "F"}}], "mark": {"type": "point", "filled": true, "opacity": 1, "color": "black", "size": 16},
   "encoding": {"x": {"field": "x", "type": "quantitative", "scale": {"domain": [0, 2, 12, 14], "range": [0, 104, 115, 219], "nice": false, "zero": false}, "axis": {"values": [0, 1, 2, 12, 13, 14], "format": "d", "domain": false, "tickSize": 3, "labelPadding": 1, "labelOverlap": false, "tickCount": 20, "title": "I:E ratio", "titlePadding": 2}},
     "y": {"field": "y", "type": "quantitative", "scale": {"domain": [0, 10, 75, 100], "range": [152.3, 139.8, 128.2, 6.2], "nice": false, "zero": false}, "axis": {"values": [0, 10, 80, 90, 100], "format": "d", "domain": false, "tickSize": 3, "labelPadding": 0.5, "labelOverlap": false, "tickCount": 20, "title": "Residual thrombin activity (%)", "titlePadding": 1}}}},
  {"data": {"name": "inh"}, "transform": [{"filter": {"field": "p", "equal": "F"}}, {"regression": "y", "on": "x", "extent": [0, 2]}], "mark": {"type": "line", "color": "black", "strokeWidth": 2},
   "encoding": {"x": {"field": "x", "type": "quantitative"}, "y": {"field": "y", "type": "quantitative"}}},
  {"mark": {"type": "rule", "color": "black", "strokeWidth": 2}, "encoding": {"x": {"datum": 0, "type": "quantitative"}, "y": {"datum": 0, "type": "quantitative"}, "y2": {"datum": 10}}},
  {"mark": {"type": "rule", "color": "black", "strokeWidth": 2}, "encoding": {"x": {"datum": 0, "type": "quantitative"}, "y": {"datum": 75, "type": "quantitative"}, "y2": {"datum": 100}}},
  {"mark": {"type": "rule", "color": "black", "strokeWidth": 2}, "encoding": {"y": {"datum": 0, "type": "quantitative"}, "x": {"datum": 0, "type": "quantitative"}, "x2": {"datum": 2}}},
  {"mark": {"type": "rule", "color": "black", "strokeWidth": 2}, "encoding": {"y": {"datum": 0, "type": "quantitative"}, "x": {"datum": 12, "type": "quantitative"}, "x2": {"datum": 14}}},
  {"data": {"name": "ann"}, "transform": [{"filter": {"field": "p", "equal": "F"}}], "mark": {"type": "text", "align": "center", "baseline": "alphabetic", "fontSize": 10, "fontWeight": "bold", "font": "Liberation Sans", "fill": "black"},
   "encoding": {"x": {"field": "x", "type": "quantitative"}, "y": {"field": "y", "type": "quantitative"}, "text": {"field": "line"}}}
 ]},
{"title": {"text": "B", "dx": -51, "dy": 19.5},
 "width": 214, "height": 142.5,
 "layer": [
  {"data": {"name": "kin"}, "transform": [{"filter": {"field": "p", "equal": "B"}}, {"regression": "v", "on": "t", "groupby": ["s"], "extent": [0, 1800]}], "mark": {"type": "line", "color": "black", "strokeWidth": 1},
   "encoding": {"x": {"field": "t", "type": "quantitative", "scale": {"domain": [0, 1800], "nice": false}, "axis": {"values": [0, 500, 1000, 1500], "format": "d", "title": "Time (s)", "titlePadding": 1}},
     "y": {"field": "v", "type": "quantitative", "scale": {"domain": [0.045, 0.105], "nice": false, "zero": false}, "axis": {"values": [0.06, 0.08, 0.10], "format": ".2f", "title": "A₄₀₅", "titleFontStyle": "italic", "titlePadding": -1}},
     "detail": {"field": "s"}}},
  {"data": {"name": "kin"}, "transform": [{"filter": {"field": "p", "equal": "B"}}], "mark": {"type": "point", "filled": true, "opacity": 1, "stroke": "black", "strokeWidth": 0.8, "size": 14},
   "encoding": {"x": {"field": "t", "type": "quantitative"}, "y": {"field": "v", "type": "quantitative"},
     "shape": {"field": "s", "scale": {"domain": ["a","b","c","d","e","f","g","h"], "range": ["circle","circle","square","triangle-up","triangle-down","diamond","circle","square"]}, "legend": null},
     "fill": {"field": "s", "scale": {"domain": ["a","b","c","d","e","f","g","h"], "range": ["black","white","white","white","white","white","white","black"]}, "legend": null}}},
  {"data": {"name": "lab"}, "transform": [{"filter": {"field": "p", "equal": "B"}}], "mark": {"type": "text", "align": "left", "baseline": "alphabetic", "dx": 8, "fontSize": 11.5, "font": "Liberation Sans", "fill": "black"},
   "encoding": {"x": {"datum": 1800, "type": "quantitative"}, "y": {"field": "v", "type": "quantitative"}, "text": {"field": "lab"}}}
 ]},
{"title": {"text": "G", "dx": -76, "dy": 27.8},
 "width": 219, "height": 152.3,
 "layer": [
  {"data": {"name": "inh"}, "transform": [{"filter": {"field": "p", "equal": "G"}}], "mark": {"type": "point", "filled": true, "opacity": 1, "color": "black", "size": 16},
   "encoding": {"x": {"field": "x", "type": "quantitative", "scale": {"domain": [0, 2.5], "nice": false}, "axis": {"values": [0, 0.5, 1, 1.5, 2, 2.5], "format": ".1f", "tickSize": 3, "labelPadding": 1, "title": "I:E ratio", "titlePadding": 2}},
     "y": {"field": "y", "type": "quantitative", "scale": {"domain": [0, 150], "range": [152.3, 6.3], "nice": false}, "axis": {"values": [0, 50, 100, 150], "format": "d", "tickSize": 3, "labelPadding": 0.5, "title": "Residual thrombin activity (%)", "titlePadding": 1}}}},
  {"data": {"name": "inh"}, "transform": [{"filter": {"field": "p", "equal": "G"}}, {"regression": "y", "on": "x", "extent": [0, 2]}], "mark": {"type": "line", "color": "black", "strokeWidth": 2},
   "encoding": {"x": {"field": "x", "type": "quantitative"}, "y": {"field": "y", "type": "quantitative"}}},
  {"data": {"name": "ann"}, "transform": [{"filter": {"field": "p", "equal": "G"}}], "mark": {"type": "text", "align": "center", "baseline": "alphabetic", "fontSize": 10, "fontWeight": "bold", "font": "Liberation Sans", "fill": "black"},
   "encoding": {"x": {"field": "x", "type": "quantitative"}, "y": {"field": "y", "type": "quantitative"}, "text": {"field": "line"}}}
 ]},
{"title": {"text": "C", "dx": -50, "dy": 20.6},
 "width": 214, "height": 142.5,
 "layer": [
  {"data": {"name": "kin"}, "transform": [{"filter": {"field": "p", "equal": "C"}}, {"regression": "v", "on": "t", "groupby": ["s"], "extent": [0, 1800]}], "mark": {"type": "line", "color": "black", "strokeWidth": 1},
   "encoding": {"x": {"field": "t", "type": "quantitative", "scale": {"domain": [0, 1800], "nice": false}, "axis": {"values": [0, 500, 1000, 1500], "format": "d", "title": "Time (s)", "titlePadding": 1}},
     "y": {"field": "v", "type": "quantitative", "scale": {"domain": [0.045, 0.105], "nice": false, "zero": false}, "axis": {"values": [0.06, 0.08, 0.10], "format": ".2f", "title": "A₄₀₅", "titleFontStyle": "italic", "titlePadding": -1}},
     "detail": {"field": "s"}}},
  {"data": {"name": "kin"}, "transform": [{"filter": {"field": "p", "equal": "C"}}], "mark": {"type": "point", "filled": true, "opacity": 1, "stroke": "black", "strokeWidth": 0.8, "size": 14},
   "encoding": {"x": {"field": "t", "type": "quantitative"}, "y": {"field": "v", "type": "quantitative"},
     "shape": {"field": "s", "scale": {"domain": ["a","b","c","d","e","f","g","h"], "range": ["circle","circle","square","triangle-up","triangle-down","diamond","circle","square"]}, "legend": null},
     "fill": {"field": "s", "scale": {"domain": ["a","b","c","d","e","f","g","h"], "range": ["black","white","white","white","white","white","white","black"]}, "legend": null}}},
  {"data": {"name": "lab"}, "transform": [{"filter": {"field": "p", "equal": "C"}}], "mark": {"type": "text", "align": "left", "baseline": "alphabetic", "dx": 8, "fontSize": 11.5, "font": "Liberation Sans", "fill": "black"},
   "encoding": {"x": {"datum": 1800, "type": "quantitative"}, "y": {"field": "v", "type": "quantitative"}, "text": {"field": "lab"}}}
 ]},
{"title": {"text": "H", "dx": -76, "dy": 27.9},
 "width": 219, "height": 152.3,
 "layer": [
  {"data": {"name": "inh"}, "transform": [{"filter": {"field": "p", "equal": "H"}}], "mark": {"type": "point", "filled": true, "opacity": 1, "color": "black", "size": 16},
   "encoding": {"x": {"field": "x", "type": "quantitative", "scale": {"domain": [0, 2.5], "nice": false}, "axis": {"values": [0, 0.5, 1, 1.5, 2, 2.5], "format": ".1f", "tickSize": 3, "labelPadding": 1, "title": "I:E ratio", "titlePadding": 2}},
     "y": {"field": "y", "type": "quantitative", "scale": {"domain": [0, 150], "range": [152.3, 6.3], "nice": false}, "axis": {"values": [0, 50, 100, 150], "format": "d", "tickSize": 3, "labelPadding": 0.5, "title": "Residual thrombin activity (%)", "titlePadding": 1}}}},
  {"data": {"name": "inh"}, "transform": [{"filter": {"field": "p", "equal": "H"}}, {"regression": "y", "on": "x", "extent": [0, 2]}], "mark": {"type": "line", "color": "black", "strokeWidth": 2},
   "encoding": {"x": {"field": "x", "type": "quantitative"}, "y": {"field": "y", "type": "quantitative"}}},
  {"data": {"name": "ann"}, "transform": [{"filter": {"field": "p", "equal": "H"}}], "mark": {"type": "text", "align": "center", "baseline": "alphabetic", "fontSize": 10, "fontWeight": "bold", "font": "Liberation Sans", "fill": "black"},
   "encoding": {"x": {"field": "x", "type": "quantitative"}, "y": {"field": "y", "type": "quantitative"}, "text": {"field": "line"}}}
 ]},
{"title": {"text": "D", "dx": -51, "dy": 17},
 "width": 214, "height": 142.5,
 "layer": [
  {"data": {"name": "kin"}, "transform": [{"filter": {"field": "p", "equal": "D"}}, {"regression": "v", "on": "t", "groupby": ["s"], "extent": [0, 1800]}], "mark": {"type": "line", "color": "black", "strokeWidth": 1},
   "encoding": {"x": {"field": "t", "type": "quantitative", "scale": {"domain": [0, 1800], "nice": false}, "axis": {"values": [0, 500, 1000, 1500], "format": "d", "title": "Time (s)", "titlePadding": 1}},
     "y": {"field": "v", "type": "quantitative", "scale": {"domain": [0.045, 0.105], "nice": false, "zero": false}, "axis": {"values": [0.06, 0.08, 0.10], "format": ".2f", "title": "A₄₀₅", "titleFontStyle": "italic", "titlePadding": -1}},
     "detail": {"field": "s"}}},
  {"data": {"name": "kin"}, "transform": [{"filter": {"field": "p", "equal": "D"}}], "mark": {"type": "point", "filled": true, "opacity": 1, "stroke": "black", "strokeWidth": 0.8, "size": 14},
   "encoding": {"x": {"field": "t", "type": "quantitative"}, "y": {"field": "v", "type": "quantitative"},
     "shape": {"field": "s", "scale": {"domain": ["a","b","c","d","e","f","g","h"], "range": ["circle","circle","square","triangle-up","triangle-down","diamond","circle","square"]}, "legend": null},
     "fill": {"field": "s", "scale": {"domain": ["a","b","c","d","e","f","g","h"], "range": ["black","white","white","white","white","white","white","black"]}, "legend": null}}},
  {"data": {"name": "lab"}, "transform": [{"filter": {"field": "p", "equal": "D"}}], "mark": {"type": "text", "align": "left", "baseline": "alphabetic", "dx": 8, "fontSize": 11.5, "font": "Liberation Sans", "fill": "black"},
   "encoding": {"x": {"datum": 1800, "type": "quantitative"}, "y": {"field": "v", "type": "quantitative"}, "text": {"field": "lab"}}}
 ]},
{"title": {"text": "I", "dx": -76, "dy": 22.5},
 "width": 219, "height": 152.3,
 "layer": [
  {"data": {"name": "inh"}, "transform": [{"filter": {"field": "p", "equal": "I"}}], "mark": {"type": "point", "filled": true, "opacity": 1, "color": "black", "size": 16},
   "encoding": {"x": {"field": "x", "type": "quantitative", "scale": {"domain": [0, 2.5], "nice": false}, "axis": {"values": [0, 0.5, 1, 1.5, 2, 2.5], "format": ".1f", "tickSize": 3, "labelPadding": 1, "title": "I:E ratio", "titlePadding": 2}},
     "y": {"field": "y", "type": "quantitative", "scale": {"domain": [0, 150], "range": [152.3, 6.3], "nice": false}, "axis": {"values": [0, 50, 100, 150], "format": "d", "tickSize": 3, "labelPadding": 0.5, "title": "Residual thrombin activity (%)", "titlePadding": 1}}}},
  {"data": {"name": "inh"}, "transform": [{"filter": {"field": "p", "equal": "I"}}, {"regression": "y", "on": "x", "extent": [0, 2]}], "mark": {"type": "line", "color": "black", "strokeWidth": 2},
   "encoding": {"x": {"field": "x", "type": "quantitative"}, "y": {"field": "y", "type": "quantitative"}}},
  {"data": {"name": "ann"}, "transform": [{"filter": {"field": "p", "equal": "I"}}], "mark": {"type": "text", "align": "center", "baseline": "alphabetic", "fontSize": 10, "fontWeight": "bold", "font": "Liberation Sans", "fill": "black"},
   "encoding": {"x": {"field": "x", "type": "quantitative"}, "y": {"field": "y", "type": "quantitative"}, "text": {"field": "line"}}}
 ]},
{"title": {"text": "E", "dx": -50, "dy": 19.6},
 "width": 214, "height": 142.5,
 "layer": [
  {"data": {"name": "kin"}, "transform": [{"filter": {"field": "p", "equal": "E"}}, {"regression": "v", "on": "t", "groupby": ["s"], "extent": [0, 1800]}], "mark": {"type": "line", "color": "black", "strokeWidth": 1},
   "encoding": {"x": {"field": "t", "type": "quantitative", "scale": {"domain": [0, 1800], "nice": false}, "axis": {"values": [0, 500, 1000, 1500], "format": "d", "title": "Time (s)", "titlePadding": 1}},
     "y": {"field": "v", "type": "quantitative", "scale": {"domain": [0.045, 0.105], "nice": false, "zero": false}, "axis": {"values": [0.06, 0.08, 0.10], "format": ".2f", "title": "A₄₀₅", "titleFontStyle": "italic", "titlePadding": -1}},
     "detail": {"field": "s"}}},
  {"data": {"name": "kin"}, "transform": [{"filter": {"field": "p", "equal": "E"}}], "mark": {"type": "point", "filled": true, "opacity": 1, "stroke": "black", "strokeWidth": 0.8, "size": 14},
   "encoding": {"x": {"field": "t", "type": "quantitative"}, "y": {"field": "v", "type": "quantitative"},
     "shape": {"field": "s", "scale": {"domain": ["a","b","c","d","e","f","g","h"], "range": ["circle","circle","square","triangle-up","triangle-down","diamond","circle","square"]}, "legend": null},
     "fill": {"field": "s", "scale": {"domain": ["a","b","c","d","e","f","g","h"], "range": ["black","white","white","white","white","white","white","black"]}, "legend": null}}},
  {"data": {"name": "lab"}, "transform": [{"filter": {"field": "p", "equal": "E"}}], "mark": {"type": "text", "align": "left", "baseline": "alphabetic", "dx": 8, "fontSize": 11.5, "font": "Liberation Sans", "fill": "black"},
   "encoding": {"x": {"datum": 1800, "type": "quantitative"}, "y": {"field": "v", "type": "quantitative"}, "text": {"field": "lab"}}}
 ]},
{"title": {"text": "J", "dx": -76, "dy": 25.2},
 "width": 219, "height": 152.3,
 "layer": [
  {"data": {"name": "inh"}, "transform": [{"filter": {"field": "p", "equal": "J"}}], "mark": {"type": "point", "filled": true, "opacity": 1, "color": "black", "size": 16},
   "encoding": {"x": {"field": "x", "type": "quantitative", "scale": {"domain": [0, 2.5], "nice": false}, "axis": {"values": [0, 0.5, 1, 1.5, 2, 2.5], "format": ".1f", "tickSize": 3, "labelPadding": 1, "title": "I:E ratio", "titlePadding": 2}},
     "y": {"field": "y", "type": "quantitative", "scale": {"domain": [0, 150], "range": [152.3, 6.3], "nice": false}, "axis": {"values": [0, 50, 100, 150], "format": "d", "tickSize": 3, "labelPadding": 0.5, "title": "Residual thrombin activity (%)", "titlePadding": 1}}}},
  {"data": {"name": "inh"}, "transform": [{"filter": {"field": "p", "equal": "J"}}, {"regression": "y", "on": "x", "extent": [0, 2]}], "mark": {"type": "line", "color": "black", "strokeWidth": 2},
   "encoding": {"x": {"field": "x", "type": "quantitative"}, "y": {"field": "y", "type": "quantitative"}}},
  {"data": {"name": "ann"}, "transform": [{"filter": {"field": "p", "equal": "J"}}], "mark": {"type": "text", "align": "center", "baseline": "alphabetic", "fontSize": 10, "fontWeight": "bold", "font": "Liberation Sans", "fill": "black"},
   "encoding": {"x": {"field": "x", "type": "quantitative"}, "y": {"field": "y", "type": "quantitative"}, "text": {"field": "line"}}}
 ]}
]
}
